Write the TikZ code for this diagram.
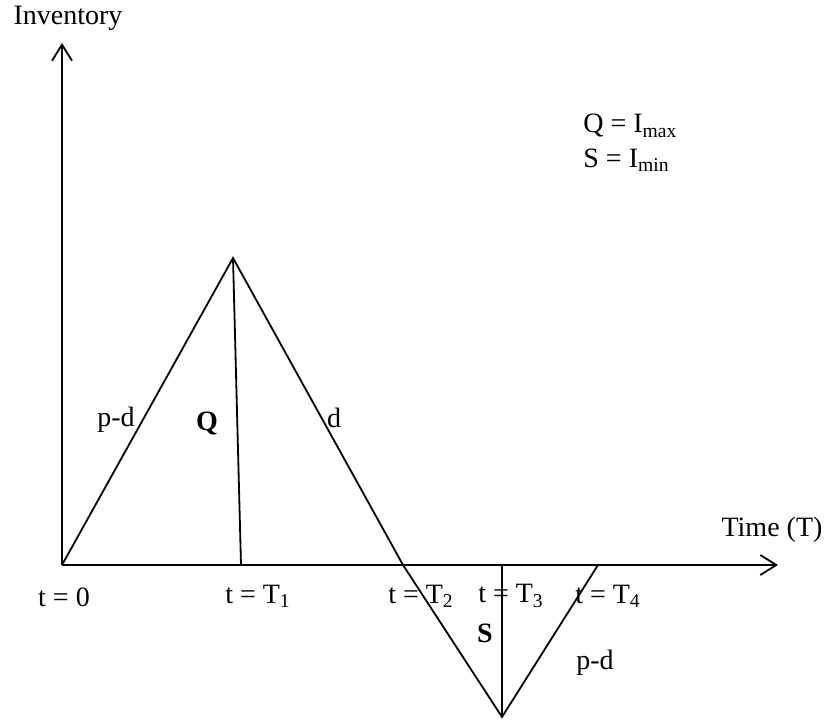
\documentclass[tikz,border=0pt]{standalone}
\usepackage{fontspec}
\setmainfont{Liberation Serif}
\usetikzlibrary{arrows.meta}

\begin{document}
\begin{tikzpicture}[
  x=0.5pt, y=-0.5pt,
  font=\fontsize{14}{16}\selectfont,
  axis/.style={-{Straight Barb[length=8pt, width=10pt, line width=0.9pt]}, line width=0.9pt},
  curve/.style={line width=0.9pt, line join=miter},
  lbl/.style={inner sep=0pt},
]
\useasboundingbox (0,0) rectangle (829,721);
% corner points of the stock curve
\coordinate (o) at (62,565);
\coordinate (ytop) at (62,43);
\coordinate (xend) at (778,565);
\coordinate (peak) at (233,258);
\coordinate (t1) at (241,565);
\coordinate (t2) at (403,565);
\coordinate (low) at (502,717);
\coordinate (t3) at (502,565);
\coordinate (t4) at (598,565);
% axes
\draw[axis] (o) -- (ytop);
\draw[axis] (o) -- (xend);
% inventory lines
\draw[curve] (o) -- (peak) -- (t2) -- (low) -- (t4);
\draw[curve] (peak) -- (t1);
\draw[curve] (t3) -- (low);
% labels
\node[lbl] (inv) at (68,18) {Inventory};
\node[lbl] (time) at (772,530) {Time (T)};
\node[lbl, anchor=west] (qdef) at (583,126) {Q = I\textsubscript{max}};
\node[lbl, anchor=west] (sdef) at (583,160) {S = I\textsubscript{min}};
\node[lbl] (rate1) at (116,420) {p-d};
\node[lbl] (qlbl) at (207,423) {\textbf{Q}};
\node[lbl] (rate2) at (334,418) {d};
\node[lbl] (slbl) at (485,633) {\textbf{S}};
\node[lbl] (rate3) at (595,663) {p-d};
\node[lbl] (lt0) at (64,597) {t = 0};
\node[lbl] (lt1) at (258,596) {t = T\textsubscript{1}};
\node[lbl] (lt2) at (421,596) {t = T\textsubscript{2}};
\node[lbl] (lt3) at (511,596) {t = T\textsubscript{3}};
\node[lbl] (lt4) at (608,596) {t = T\textsubscript{4}};
\end{tikzpicture}
\end{document}
